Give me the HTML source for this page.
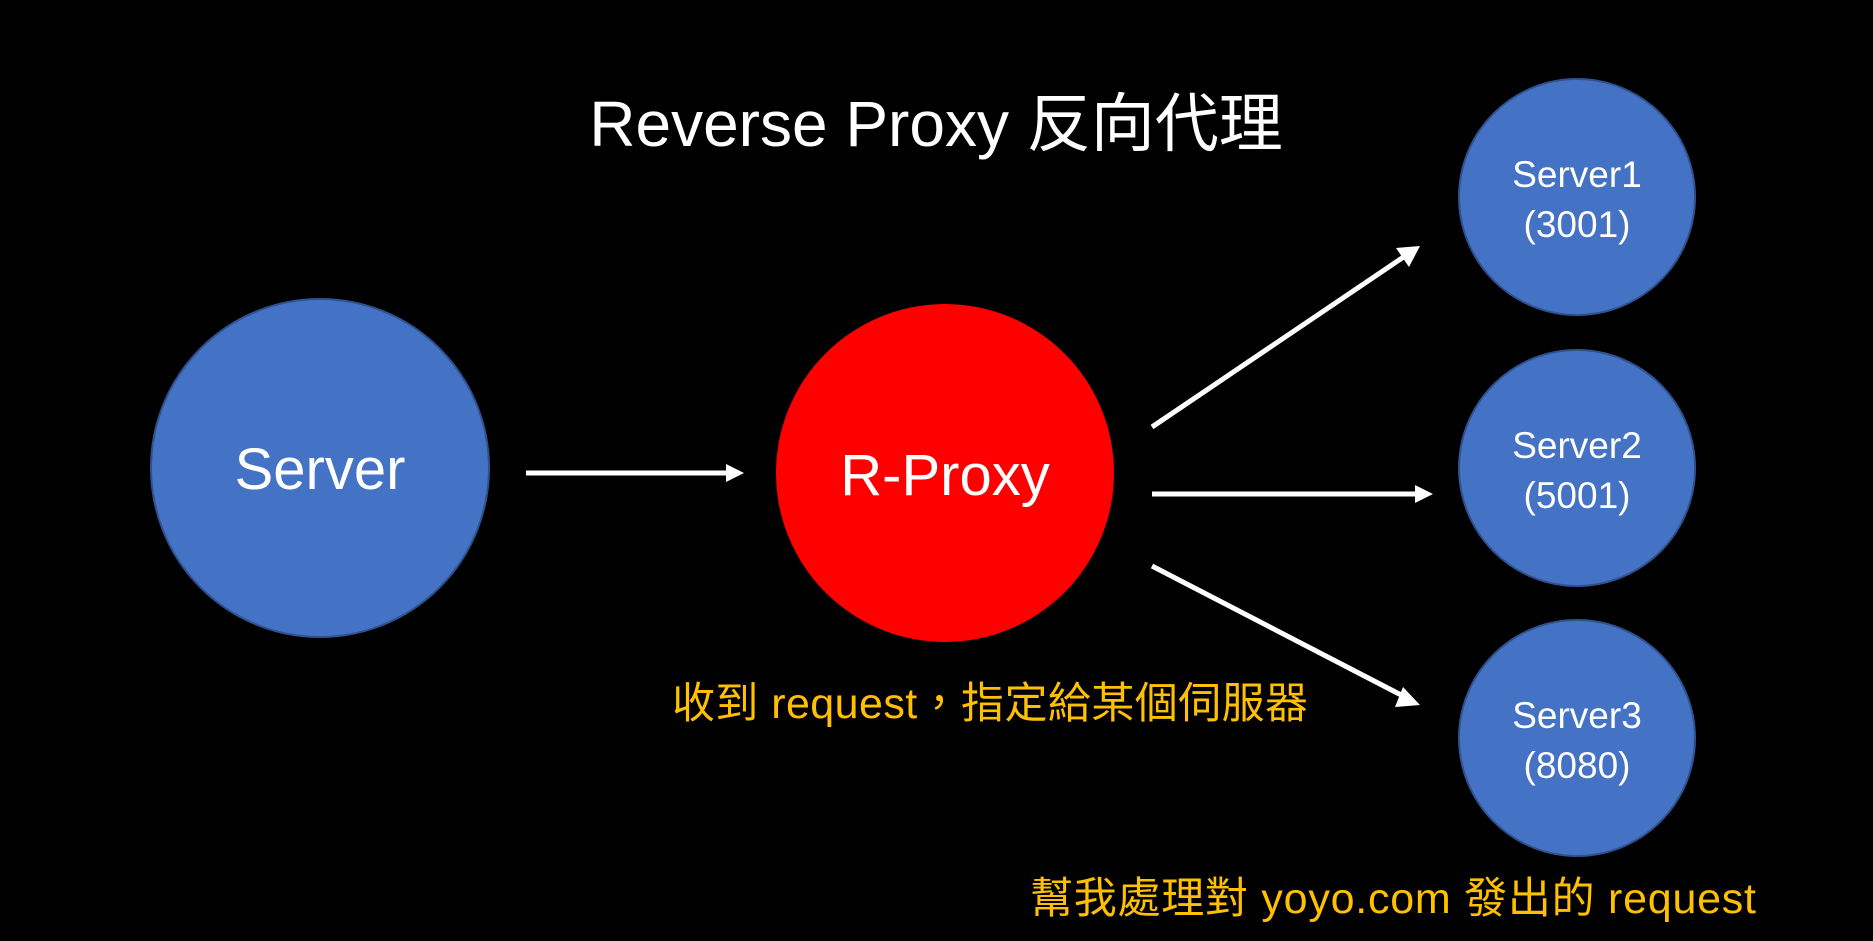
<!DOCTYPE html>
<html><head><meta charset="utf-8"><style>
html,body{margin:0;padding:0;background:#000;}
svg{display:block}
text{font-family:"Liberation Sans","Noto Sans CJK TC",sans-serif;}
</style></head><body>
<svg width="1873" height="941" viewBox="0 0 1873 941" xmlns="http://www.w3.org/2000/svg">
<rect width="1873" height="941" fill="#000"/>
<text x="936" y="146" font-size="64" fill="#fff" text-anchor="middle">Reverse Proxy 反向代理</text>
<circle cx="320" cy="468" r="169" fill="#4472C4" stroke="#2F528F" stroke-width="2"/>
<text x="320" y="489" font-size="58" fill="#fff" text-anchor="middle">Server</text>
<circle cx="945" cy="473" r="169" fill="#FF0000"/>
<text x="945" y="495" font-size="58" fill="#fff" text-anchor="middle">R-Proxy</text>
<g fill="#4472C4" stroke="#2F528F" stroke-width="2">
<circle cx="1577" cy="197" r="118"/>
<circle cx="1577" cy="468" r="118"/>
<circle cx="1577" cy="738" r="118"/>
</g>
<g font-size="37" fill="#fff" text-anchor="middle">
<text x="1577" y="187">Server1</text><text x="1577" y="237">(3001)</text>
<text x="1577" y="458">Server2</text><text x="1577" y="508">(5001)</text>
<text x="1577" y="728">Server3</text><text x="1577" y="778">(8080)</text>
</g>
<g stroke="#fff" stroke-width="5">
<line x1="526" y1="473" x2="728" y2="473"/>
<line x1="1152" y1="427" x2="1405" y2="256"/>
<line x1="1152" y1="494" x2="1418" y2="494"/>
<line x1="1152" y1="566" x2="1405" y2="697"/>
</g>
<g fill="#fff">
<polygon points="744,473 726,464 726,482"/>
<polygon points="1420,246 1396,248 1409,267"/>
<polygon points="1433,494 1415,485 1415,503"/>
<polygon points="1420,705 1403,687 1395,707"/>
</g>
<text x="990" y="718" font-size="43" fill="#FFC000" text-anchor="middle" textLength="636">收到 request，指定給某個伺服器</text>
<text x="1393" y="913" font-size="43" fill="#FFC000" text-anchor="middle" textLength="726">幫我處理對 yoyo.com 發出的 request</text>
</svg>
</body></html>
